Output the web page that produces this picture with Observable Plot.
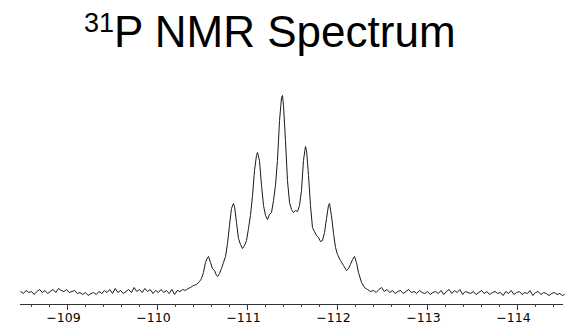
<!DOCTYPE html>
<html>
<head>
<meta charset="utf-8">
<script src="https://cdn.jsdelivr.net/npm/d3@7"></script>
<script src="https://cdn.jsdelivr.net/npm/@observablehq/plot@0.6"></script>
<style>
  html, body { margin: 0; padding: 0; background: #fff; }
  #title {
    height: 60px; box-sizing: border-box; padding-top: 9px; padding-left: 84px;
    font-family: "Liberation Sans", Arial, sans-serif; font-size: 44px; line-height: 45px;
    color: #000; white-space: nowrap;
  }
  #title .sup { font-size: 27px; position: relative; top: -15px; line-height: 0; }
  #chart svg g[aria-label="x-axis tick label"] text { font-size: 12.5px; }
</style>
</head>
<body>
<div id="title"><span class="sup">31</span>P NMR Spectrum</div>
<div id="chart"></div>
<script>
// Left baseline (ppm, intensity a.u.)
const leftPpm = [-108.48,-108.51,-108.54,-108.57,-108.60,-108.63,-108.66,-108.69,-108.72,-108.75,-108.78,-108.81,-108.84,-108.87,-108.90,-108.93,-108.96,-108.99,-109.02,-109.05,-109.08,-109.11,-109.14,-109.17,-109.20,-109.23,-109.26,-109.29,-109.32,-109.35,-109.38,-109.41,-109.44,-109.47,-109.50,-109.53,-109.56,-109.59,-109.62,-109.65,-109.68,-109.71,-109.74,-109.77,-109.80,-109.83,-109.86,-109.89,-109.92,-109.95,-109.98,-110.01,-110.04,-110.07,-110.10,-110.13,-110.16,-110.19,-110.22,-110.25,-110.28,-110.31,-110.34];
const leftI = [1,-1,2,0,1,-2,1,3,0,2,-1,1,3,0,4,2,1,3,0,1,2,-1,0,-2,0,-3,-1,0,-2,1,-1,2,0,3,-1,4,0,2,-1,1,3,0,5,1,3,0,4,1,3,-1,2,0,3,0,2,-1,3,-2,2,1,3,2,4];

// Septet region
const peakPpm = [-110.367,-110.400,-110.433,-110.467,-110.489,-110.511,-110.533,-110.556,-110.567,-110.589,-110.611,-110.633,-110.656,-110.667,-110.689,-110.711,-110.733,-110.756,-110.778,-110.800,-110.822,-110.844,-110.856,-110.878,-110.900,-110.922,-110.944,-110.967,-110.989,-111.011,-111.033,-111.056,-111.078,-111.100,-111.111,-111.133,-111.156,-111.178,-111.200,-111.222,-111.244,-111.267,-111.289,-111.311,-111.333,-111.356,-111.378,-111.389,-111.400,-111.422,-111.444,-111.467,-111.489,-111.511,-111.533,-111.556,-111.578,-111.600,-111.622,-111.644,-111.656,-111.678,-111.700,-111.722,-111.744,-111.767,-111.789,-111.811,-111.833,-111.856,-111.878,-111.900,-111.911,-111.933,-111.956,-111.978,-112.000,-112.033,-112.067,-112.100,-112.122,-112.144,-112.167,-112.189,-112.211,-112.233,-112.267,-112.300,-112.333,-112.367];
const peakI = [5,7,8,11,14,20,30,35,36,30,24,22,17,16,19,24,30,36,49,67,84,89,86,70,54,48,44,47,52,64,77,97,122,137,140,132,107,87,77,73,78,80,92,107,132,172,195,197,187,152,112,90,83,80,82,81,87,102,132,146,142,117,87,65,61,57,55,51,52,60,74,87,89,77,59,45,38,32,27,22,24,28,33,36,30,20,10,5,3,1];

// Right baseline
const rightPpm = [-112.40,-112.43,-112.46,-112.49,-112.52,-112.55,-112.58,-112.61,-112.64,-112.67,-112.70,-112.73,-112.76,-112.79,-112.82,-112.85,-112.88,-112.91,-112.94,-112.97,-113.00,-113.03,-113.06,-113.09,-113.12,-113.15,-113.18,-113.21,-113.24,-113.27,-113.30,-113.33,-113.36,-113.39,-113.42,-113.45,-113.48,-113.51,-113.54,-113.57,-113.60,-113.63,-113.66,-113.69,-113.72,-113.75,-113.78,-113.81,-113.84,-113.87,-113.90,-113.93,-113.96,-113.99,-114.02,-114.05,-114.08,-114.11,-114.14,-114.17,-114.20,-114.23,-114.26,-114.29,-114.32,-114.35,-114.38,-114.41,-114.44,-114.47,-114.50,-114.52];
const rightI = [2,0,3,5,1,3,0,2,-1,1,2,-1,1,3,0,1,-1,2,0,-1,1,-2,0,1,-1,2,-2,1,3,-1,2,0,3,-2,1,0,-1,1,-2,0,2,-1,1,-2,0,1,-1,0,-3,1,-1,2,-2,0,1,-2,0,-1,2,-3,0,1,-2,0,-1,-3,-1,0,-2,-1,-3,-2];

// Axis ticks
const minorTicks = [-108.6,-108.8,-109.2,-109.4,-109.6,-109.8,-110.2,-110.4,-110.6,-110.8,-111.2,-111.4,-111.6,-111.8,-112.2,-112.4,-112.6,-112.8,-113.2,-113.4,-113.6,-113.8,-114.2,-114.4];
const majorTicks = [-109,-110,-111,-112,-113,-114];

const ppm = [...leftPpm, ...peakPpm, ...rightPpm];
const intensity = [...leftI, ...peakI, ...rightI];
const data = ppm.map((p, i) => ({ppm: p, intensity: intensity[i]}));

const chart = Plot.plot({
  width: 571,
  height: 271,
  marginLeft: 20,
  marginRight: 8,
  marginTop: 20,
  marginBottom: 27,
  style: {fontFamily: "DejaVu Sans", fontSize: "12px", background: "#fff", color: "#000"},
  x: {domain: [-108.478, -114.511], label: null},
  y: {domain: [-12, 212], axis: null},
  marks: [
    Plot.ruleY([-12], {stroke: "#333", strokeWidth: 1}),
    Plot.axisX({ticks: minorTicks, tickSize: 3, tickFormat: () => "", stroke: "#444"}),
    Plot.axisX({ticks: majorTicks, tickSize: 6, tickFormat: () => "", stroke: "#333"}),
    Plot.axisX({ticks: majorTicks, tickSize: 0, tickPadding: 9, tickFormat: d3.format("d"), fill: "#000", fontSize: 12.5, dx: -4}),
    Plot.line(data, {x: "ppm", y: "intensity", stroke: "#1a1a1a", strokeWidth: 1})
  ]
});
document.getElementById("chart").appendChild(chart);
</script>
</body>
</html>
